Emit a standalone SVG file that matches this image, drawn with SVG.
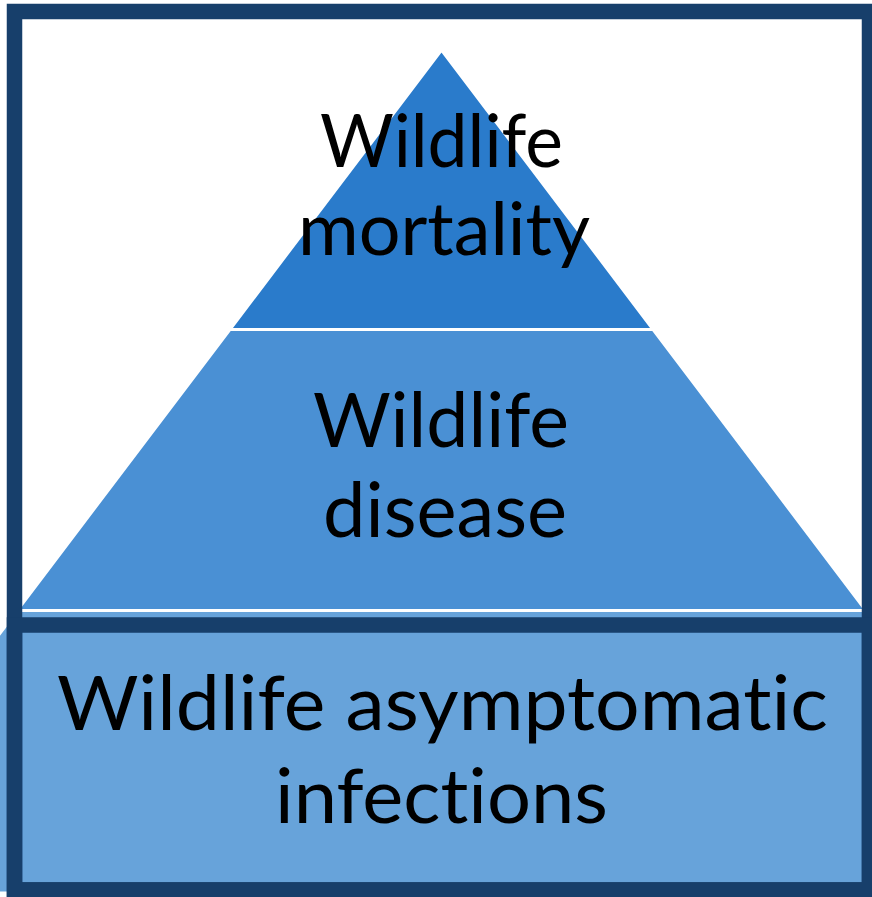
<svg xmlns="http://www.w3.org/2000/svg" width="872" height="897" viewBox="0 0 872 897">
<style>
.layer{stroke:#FFFFFF;stroke-width:3;stroke-linejoin:miter}
.frame{fill:none;stroke:#173F6B;stroke-width:15.5}
.lbl{font-family:Lato,"Liberation Sans",Arial,sans-serif;fill:#000000;text-anchor:middle;font-variant-ligatures:none;font-feature-settings:"liga" 0,"dlig" 0,"clig" 0}
</style>
<rect x="0" y="0" width="872" height="897" fill="#FFFFFF"/>
<g id="layer-bottom">
<polygon class="layer" points="17.2,610.5 865.8,610.5 1079.6,893 -196.6,893" fill="#67A3DA"/>
</g>
<g id="layer-middle">
<polygon class="layer" points="229.9,329.5 653.1,329.5 865.8,610.5 17.2,610.5" fill="#4A90D4"/>
<text class="lbl" x="441" y="447" font-size="76" textLength="256" lengthAdjust="spacingAndGlyphs">Wildlife</text>
<text class="lbl" x="445" y="537" font-size="76" textLength="244" lengthAdjust="spacingAndGlyphs">disease</text>
</g>
<g id="layer-top">
<polygon class="layer" points="441.5,50 653.1,329.5 229.9,329.5" fill="#2A7BCB"/>
<text class="lbl" x="441.5" y="167" font-size="73" textLength="243" lengthAdjust="spacingAndGlyphs">Wildlife</text>
<text class="lbl" x="444" y="255" font-size="73" textLength="292" lengthAdjust="spacingAndGlyphs">mortality</text>
</g>
<g id="frame">
<rect class="frame" x="14.5" y="11.5" width="855" height="878.5"/>
<rect class="frame" x="14.5" y="625" width="855" height="265"/>
</g>
<g id="bottom-label">
<text class="lbl" x="442.5" y="730" font-size="76" textLength="771" lengthAdjust="spacingAndGlyphs">Wildlife asymptomatic</text>
<text class="lbl" x="441.5" y="823" font-size="76" textLength="333" lengthAdjust="spacingAndGlyphs">infections</text>
</g>
<g id="connectors"></g>
</svg>
